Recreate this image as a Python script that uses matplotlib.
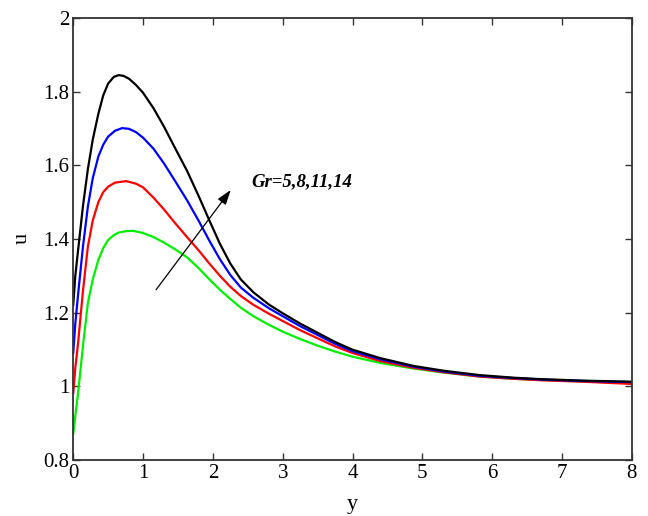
import matplotlib
matplotlib.use("Agg")
import matplotlib.pyplot as plt

# velocity profiles u(y) for Gr = 5, 8, 11, 14
y_gr5 = [0, 0.03, 0.07, 0.14, 0.21, 0.28, 0.36, 0.43, 0.5, 0.58, 0.65, 0.75, 0.86, 1.0, 1.15, 1.3, 1.45,
         1.63, 1.8, 1.95, 2.1, 2.25, 2.4, 2.58, 2.8, 3.0, 3.25, 3.5, 3.75, 4.0, 4.4, 4.87, 5.3, 5.82, 6.3, 6.7, 7.3, 8]
u_gr5 = [0.87, 0.92, 0.982, 1.11, 1.226, 1.29, 1.343, 1.375, 1.397, 1.410, 1.417, 1.421, 1.422, 1.416, 1.405,
         1.390, 1.373, 1.350, 1.320, 1.290, 1.262, 1.237, 1.213, 1.190, 1.167, 1.148, 1.128, 1.110, 1.094,
         1.080, 1.063, 1.048, 1.037, 1.026, 1.020, 1.017, 1.013, 1.010]

y_gr8 = [0, 0.03, 0.07, 0.14, 0.21, 0.28, 0.36, 0.43, 0.5, 0.6, 0.76, 0.9, 1.0, 1.15, 1.3, 1.45,
         1.63, 1.8, 1.95, 2.1, 2.25, 2.4, 2.58, 2.8, 3.0, 3.25, 3.5, 3.75, 4.0, 4.4, 4.87, 5.3, 5.82, 6.3, 6.7, 7.3, 8]
u_gr8 = [0.98, 1.05, 1.118, 1.26, 1.379, 1.45, 1.500, 1.527, 1.542, 1.553, 1.557, 1.550, 1.540, 1.512,
         1.480, 1.445, 1.405, 1.368, 1.333, 1.300, 1.270, 1.245, 1.221, 1.197, 1.177, 1.152, 1.130, 1.108,
         1.090, 1.068, 1.050, 1.038, 1.026, 1.020, 1.016, 1.012, 1.006]

y_gr11 = [0, 0.03, 0.07, 0.14, 0.21, 0.28, 0.36, 0.43, 0.5, 0.6, 0.7, 0.8, 0.9, 1.0, 1.15, 1.3, 1.45,
          1.63, 1.8, 1.95, 2.1, 2.25, 2.4, 2.58, 2.8, 3.0, 3.25, 3.5, 3.75, 4.0, 4.4, 4.87, 5.3, 5.82, 6.3, 6.7, 7.3, 8]
u_gr11 = [1.09, 1.17, 1.25, 1.38, 1.488, 1.565, 1.624, 1.656, 1.678, 1.694, 1.701, 1.699, 1.690, 1.675,
          1.645, 1.605, 1.560, 1.505, 1.448, 1.395, 1.345, 1.302, 1.268, 1.240, 1.212, 1.190, 1.163, 1.139,
          1.115, 1.095, 1.073, 1.053, 1.040, 1.028, 1.022, 1.018, 1.014, 1.011]

y_gr14 = [0, 0.03, 0.07, 0.14, 0.21, 0.28, 0.36, 0.43, 0.5, 0.58, 0.65, 0.72, 0.8, 0.9, 1.0, 1.15, 1.3, 1.45,
          1.63, 1.8, 1.95, 2.1, 2.25, 2.4, 2.58, 2.8, 3.0, 3.25, 3.5, 3.75, 4.0, 4.4, 4.87, 5.3, 5.82, 6.3, 6.7, 7.3, 8]
u_gr14 = [1.22, 1.30, 1.37, 1.49, 1.59, 1.67, 1.74, 1.79, 1.822, 1.840, 1.845, 1.843, 1.835, 1.818, 1.797,
          1.755, 1.705, 1.650, 1.585, 1.515, 1.450, 1.387, 1.333, 1.290, 1.255, 1.222, 1.198, 1.170, 1.145,
          1.120, 1.099, 1.076, 1.055, 1.042, 1.030, 1.023, 1.019, 1.015, 1.012]

xticks = [0, 1, 2, 3, 4, 5, 6, 7, 8]
yticks = [0.8, 1, 1.2, 1.4, 1.6, 1.8, 2]
ytick_labels = ["0.8", "1", "1.2", "1.4", "1.6", "1.8", "2"]

arrow_tail = (1.187, 1.262)
arrow_head = (2.256, 1.533)

plt.rcParams["font.family"] = ["Liberation Serif", "DejaVu Serif"]

fig = plt.figure(figsize=(6.48, 5.16), dpi=100)
ax = fig.add_axes([0.113, 0.109, 0.862, 0.856])

ax.plot(y_gr5, u_gr5, color="#00ee00", lw=1.6)
ax.plot(y_gr8, u_gr8, color="#ff0000", lw=1.6)
ax.plot(y_gr11, u_gr11, color="#0000ff", lw=1.6)
ax.plot(y_gr14, u_gr14, color="black", lw=1.6)

ax.annotate("", xy=arrow_head, xytext=arrow_tail,
            arrowprops=dict(arrowstyle="-|>,head_length=0.9,head_width=0.3",
                            color="black", lw=0.9, shrinkA=0, shrinkB=0))
ax.text(2.55, 1.555, "Gr=5,8,11,14", fontsize=13.5, style="italic",
        fontweight="bold", va="center", ha="left")

ax.set_xlim(0, 8)
ax.set_ylim(0.8, 2)
ax.set_xticks(xticks)
ax.set_yticks(yticks)
ax.set_yticklabels(ytick_labels)
ax.tick_params(direction="in", length=5, width=1, top=True, right=True,
               labelsize=15, colors="#333333", labelcolor="black", pad=3)
for s in ax.spines.values():
    s.set_color("#333333")
    s.set_linewidth(1.3)

ax.set_xlabel("y", fontsize=16, labelpad=9)
ax.set_ylabel("u", fontsize=16, labelpad=8)

fig.savefig("out.png", dpi=100)
